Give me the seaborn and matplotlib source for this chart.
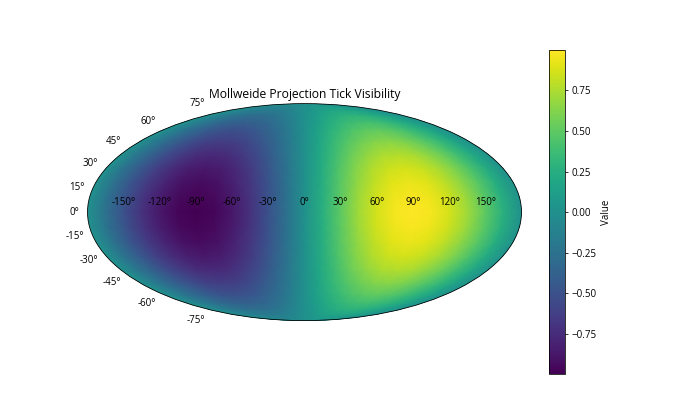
import numpy as np
import matplotlib
matplotlib.use("Agg")
import matplotlib.pyplot as plt
import seaborn as sns

# grid nodes in degrees
lon_deg = [-180, -165, -150, -135, -120, -105, -90, -75, -60, -45, -30, -15, 0,
           15, 30, 45, 60, 75, 90, 105, 120, 135, 150, 165, 180]
lat_deg = [-90, -88, -85, -80, -74, -67, -60, -50, -40, -30, -20, -10, 0,
           10, 20, 30, 40, 50, 60, 67, 74, 80, 85, 88, 90]

# values, one row per latitude
row_90 = [0.0] * 25
row_88 = [0, -.01, -.02, -.02, -.03, -.03, -.03, -.03, -.03, -.02, -.02, -.01, 0,
          .01, .02, .02, .03, .03, .03, .03, .03, .02, .02, .01, 0]
row_85 = [0, -.02, -.05, -.06, -.08, -.09, -.09, -.09, -.08, -.06, -.05, -.02, 0,
          .02, .05, .06, .08, .09, .09, .09, .08, .06, .05, .02, 0]
row_80 = [0, -.04, -.09, -.12, -.15, -.16, -.17, -.16, -.15, -.12, -.09, -.04, 0,
          .04, .09, .12, .15, .16, .17, .16, .15, .12, .09, .04, 0]
row_74 = [0, -.07, -.14, -.20, -.24, -.27, -.28, -.27, -.24, -.20, -.14, -.07, 0,
          .07, .14, .20, .24, .27, .28, .27, .24, .20, .14, .07, 0]
row_67 = [0, -.10, -.20, -.28, -.34, -.38, -.39, -.38, -.34, -.28, -.20, -.10, 0,
          .10, .20, .28, .34, .38, .39, .38, .34, .28, .20, .10, 0]
row_60 = [0, -.13, -.25, -.35, -.43, -.48, -.50, -.48, -.43, -.35, -.25, -.13, 0,
          .13, .25, .35, .43, .48, .50, .48, .43, .35, .25, .13, 0]
row_50 = [0, -.17, -.32, -.45, -.55, -.62, -.64, -.62, -.55, -.45, -.32, -.17, 0,
          .17, .32, .45, .55, .62, .64, .62, .55, .45, .32, .17, 0]
row_40 = [0, -.20, -.38, -.54, -.66, -.74, -.77, -.74, -.66, -.54, -.38, -.20, 0,
          .20, .38, .54, .66, .74, .77, .74, .66, .54, .38, .20, 0]
row_30 = [0, -.22, -.43, -.61, -.75, -.84, -.87, -.84, -.75, -.61, -.43, -.22, 0,
          .22, .43, .61, .75, .84, .87, .84, .75, .61, .43, .22, 0]
row_20 = [0, -.24, -.47, -.66, -.81, -.91, -.94, -.91, -.81, -.66, -.47, -.24, 0,
          .24, .47, .66, .81, .91, .94, .91, .81, .66, .47, .24, 0]
row_10 = [0, -.25, -.49, -.70, -.85, -.95, -.98, -.95, -.85, -.70, -.49, -.25, 0,
          .25, .49, .70, .85, .95, .98, .95, .85, .70, .49, .25, 0]
row_00 = [0, -.26, -.50, -.71, -.87, -.97, -.997, -.97, -.87, -.71, -.50, -.26, 0,
          .26, .50, .71, .87, .97, .997, .97, .87, .71, .50, .26, 0]

values = np.array([row_90, row_88, row_85, row_80, row_74, row_67, row_60, row_50,
                   row_40, row_30, row_20, row_10, row_00, row_10, row_20, row_30,
                   row_40, row_50, row_60, row_67, row_74, row_80, row_85, row_88, row_90])

plt.rcParams["font.family"] = ["Open Sans", "DejaVu Sans"]
cmap = sns.color_palette("viridis", as_cmap=True)

fig = plt.figure(figsize=(10, 6), dpi=70)
ax = fig.add_subplot(111, projection="mollweide")
# rim of the map is the zero colour, so the slivers left by the mesh stay hidden
ax.set_facecolor(cmap(0.5))
mesh = ax.pcolormesh(np.radians(lon_deg), np.radians(lat_deg), values,
                     cmap=cmap, shading="gouraud")
ax.set_title("Mollweide Projection Tick Visibility", fontsize=12.45)
cbar = fig.colorbar(mesh, ax=ax, label="Value")

fig.savefig("out.png", dpi=70)
